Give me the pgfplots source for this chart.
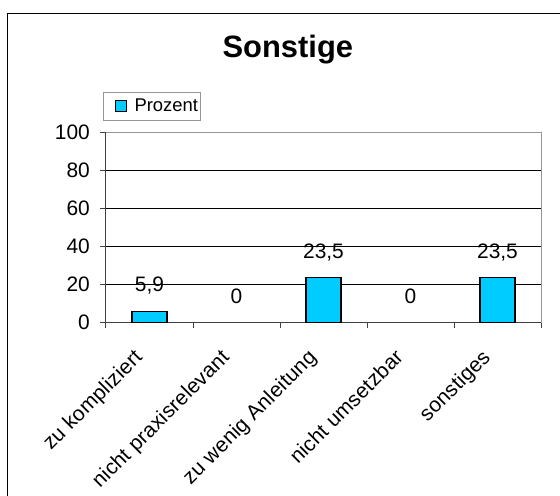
\documentclass[border=0pt]{standalone}
\usepackage{fontspec}
\setmainfont{Liberation Sans}
\newfontfamily\xlabfont[LetterSpace=1]{Liberation Sans}
\usepackage{pgfplots}
\pgfplotsset{compat=1.18}
\definecolor{barcyan}{RGB}{0,204,255}
\definecolor{axisdark}{RGB}{64,64,64}
\definecolor{bordergray}{RGB}{150,150,150}
\newcommand\tickfont{\fontsize{21}{24}\selectfont}
\begin{document}
\begin{tikzpicture}
\useasboundingbox (0bp,0bp) rectangle (560bp,496bp);
\draw[line width=1.2bp, black] (7.3bp,0bp) -- (7.3bp,482.7bp) -- (560bp,482.7bp);
\begin{axis}[
  at={(106bp,173.5bp)}, anchor=south west,
  width=435bp, height=190bp, scale only axis,
  xmin=-0.5, xmax=4.5, ymin=0, ymax=100,
  axis x line*=bottom, axis y line*=left,
  axis line style={axisdark, line width=1bp},
  xtick={0,1,2,3,4},
  xticklabels={zu kompliziert, nicht praxisrelevant, zu wenig Anleitung, nicht umsetzbar, sonstiges},
  minor xtick={-0.5,0.5,1.5,2.5,3.5,4.5},
  major x tick style={draw=none},
  minor x tick style={axisdark, line width=1bp},
  minor tick length=5bp,
  ytick={0,20,40,60,80,100},
  y tick style={axisdark, line width=1bp},
  major tick length=6bp,
  tick align=outside,
  ymajorgrids, grid style={black, line width=0.8bp},
  /pgf/number format/assume math mode=true,
  yticklabel style={font=\tickfont, anchor=east, inner sep=0pt, xshift=-10bp},
  xticklabel style={font=\xlabfont\tickfont, anchor=base east, inner sep=0pt, yshift=-30bp, xshift=-6bp, rotate=45},
  title={Sonstige},
  title style={font=\fontsize{31}{36}\selectfont\bfseries, at={(0.418,1)}, anchor=base, yshift=69.4bp, inner sep=0pt},
  legend style={at={(0,1)}, anchor=south west, yshift=11.7bp, xshift=-3bp, draw=bordergray, line width=0.8bp,
    font=\fontsize{18.5}{21}\selectfont, inner xsep=0pt, inner ysep=5bp},
  legend cell align=left,
  legend image code/.code={\path (0bp,0bp); \draw[fill=barcyan, draw=black, line width=1bp] (11bp,-5.5bp) rectangle (22bp,5.5bp);},
  clip=false,
  after end axis/.code={\draw[bordergray, line width=1bp] (rel axis cs:0,1) -- (rel axis cs:1,1) -- (rel axis cs:1,0);},
]
\addplot[ybar, bar shift=0pt, bar width=35bp, fill=barcyan, draw=black, line width=1.3bp,
  point meta=explicit symbolic, nodes near coords,
  every node near coord/.append style={font=\tickfont, anchor=base, yshift=19.5bp, inner sep=0pt, text=black}]
  coordinates {(0,5.9) [5,9] (2,23.5) [23,5] (4,23.5) [23,5]};
\addlegendentry{\hspace{6bp}Prozent\hspace{4bp}}
\addplot[ybar, bar shift=0pt, bar width=35bp, draw=none, fill=none, forget plot,
  point meta=explicit symbolic, nodes near coords,
  every node near coord/.append style={font=\tickfont, anchor=base, yshift=19.5bp, inner sep=0pt, text=black}]
  coordinates {(1,0) [0] (3,0) [0]};
\end{axis}
\end{tikzpicture}
\end{document}
